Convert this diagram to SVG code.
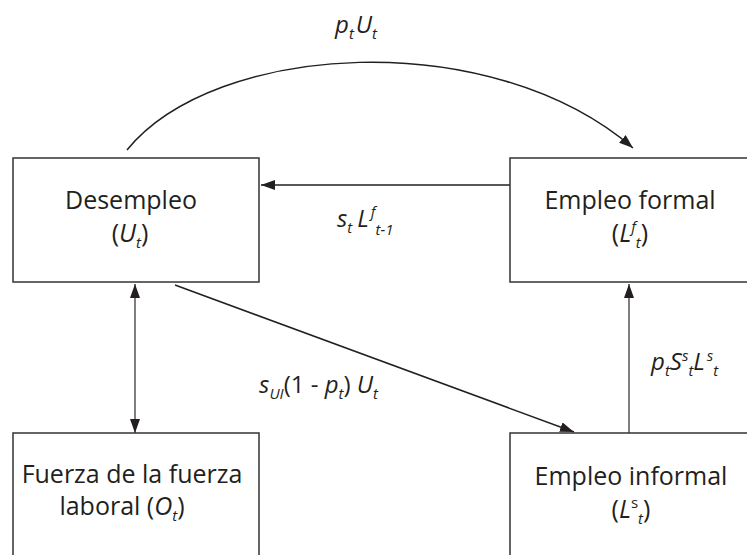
<svg xmlns="http://www.w3.org/2000/svg" width="747" height="555" viewBox="0 0 747 555">
<style>
.box{fill:#fff;stroke:#333;stroke-width:1.5}
.t{font-family:"Open Sans","Liberation Sans",sans-serif;font-size:25px;fill:#231f20}
.lab{font-family:"Open Sans","Liberation Sans",sans-serif;font-size:24px;font-style:italic;fill:#231f20}
.it{font-style:italic}
.up{font-style:normal}
.s{font-size:15px}
.con{fill:none;stroke:#231f20;stroke-width:1.5}
.gray{stroke:#555}
</style>
<defs>
<marker id="ah" viewBox="0 0 14 10" refX="14" refY="5" markerWidth="14" markerHeight="10" markerUnits="userSpaceOnUse" orient="auto-start-reverse">
<path d="M0,0 L14,5 L0,10 z" fill="#231f20"/>
</marker>
</defs>
<g id="connectors">
<path class="con" d="M127,150 C215,42 490,25 633,148" marker-end="url(#ah)"/>
<line class="con" x1="510" y1="185" x2="261" y2="185" marker-end="url(#ah)"/>
<line class="con gray" x1="135" y1="433" x2="135" y2="284" marker-start="url(#ah)" marker-end="url(#ah)"/>
<line class="con" x1="175" y1="285" x2="574" y2="432" marker-end="url(#ah)"/>
<line class="con gray" x1="629" y1="433" x2="629" y2="284" marker-end="url(#ah)"/>
</g>
<g id="labels">
<text class="lab" x="335" y="33">p<tspan class="s" dy="6">t</tspan><tspan dy="-6" dx="2">U</tspan><tspan class="s" dy="6">t</tspan></text>
<text class="lab" x="337" y="227">s<tspan class="s" dy="6">t</tspan><tspan dy="-6" dx="5">L</tspan><tspan class="s" dy="-10" dx="2">f</tspan><tspan class="s" dy="18">t-1</tspan></text>
<text class="lab" x="378" y="393" text-anchor="end">s<tspan class="s" dy="6">UI</tspan><tspan class="up" dy="-6">(1 - </tspan>p<tspan class="s" dy="6">t</tspan><tspan class="up" dy="-6">) </tspan>U<tspan class="s" dy="6">t</tspan></text>
<text class="lab" x="651" y="370">p<tspan class="s" dy="6">t</tspan><tspan dy="-6">S</tspan><tspan class="s" dy="-9">s</tspan><tspan class="s" dy="15">t</tspan><tspan dy="-6">L</tspan><tspan class="s" dy="-9" dx="2">s</tspan><tspan class="s" dy="15">t</tspan></text>
</g>
<g id="desempleo">
<rect class="box" x="13" y="158" width="246" height="124"/>
<text class="t" x="131" y="209" text-anchor="middle">Desempleo</text>
<text class="t" x="130" y="242" text-anchor="middle">(<tspan class="it">U</tspan><tspan class="it s" dy="6">t</tspan><tspan dy="-6">)</tspan></text>
</g>
<g id="empleo-formal">
<rect class="box" x="510" y="158" width="250" height="124"/>
<text class="t" x="630" y="209" text-anchor="middle">Empleo formal</text>
<text class="t" x="630" y="242" text-anchor="middle">(<tspan class="it">L</tspan><tspan class="it s" dy="-10">f</tspan><tspan class="it s" dy="16">t</tspan><tspan dy="-6">)</tspan></text>
</g>
<g id="fuerza">
<rect class="box" x="13" y="433" width="246" height="140"/>
<text class="t" x="132" y="483" text-anchor="middle">Fuerza de la fuerza</text>
<text class="t" x="122" y="515" text-anchor="middle">laboral (<tspan class="it">O</tspan><tspan class="it s" dy="6">t</tspan><tspan dy="-6">)</tspan></text>
</g>
<g id="empleo-informal">
<rect class="box" x="510" y="433" width="250" height="140"/>
<text class="t" x="631" y="485" text-anchor="middle">Empleo informal</text>
<text class="t" x="631" y="518" text-anchor="middle">(<tspan class="it">L</tspan><tspan class="s" dy="-10">s</tspan><tspan class="it s" dy="16">t</tspan><tspan dy="-6">)</tspan></text>
</g>
</svg>
